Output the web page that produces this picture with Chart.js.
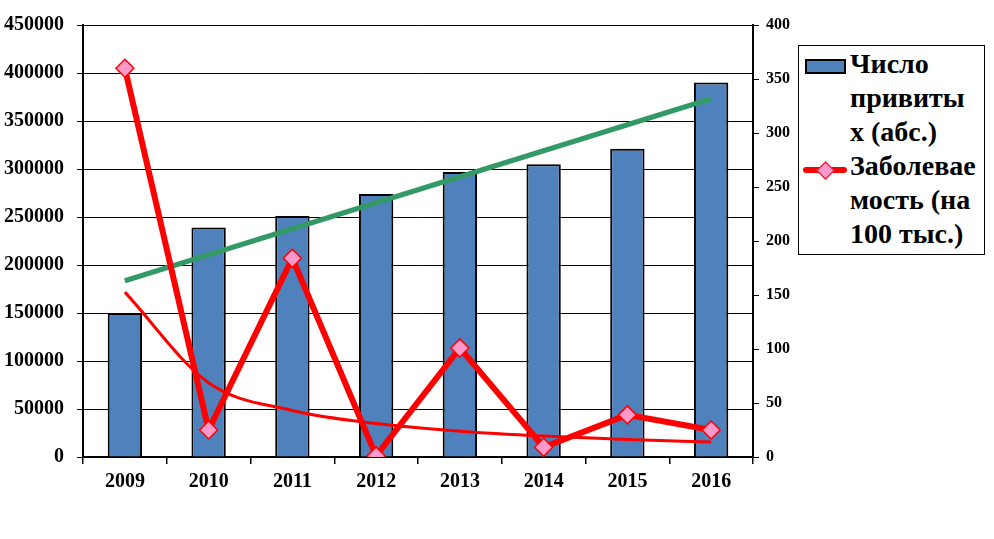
<!DOCTYPE html>
<html>
<head>
<meta charset="utf-8">
<script src="https://cdn.jsdelivr.net/npm/chart.js@4.4.0/dist/chart.umd.min.js"></script>
<style>
    body { margin: 0; background: #fff; }
    #wrap { position: relative; width: 994px; height: 539px; }
    #legend {
        position: absolute; left: 798px; top: 45px; width: 187px; height: 210px;
        border: 1px solid #000; background: #fff; box-sizing: border-box;
        font-family: "Liberation Serif", "Times New Roman", serif;
        font-weight: bold; font-size: 28px; line-height: 34px; color: #000;
    }
    .lg-text { position: absolute; left: 51px; white-space: nowrap; }
    .swatch { position: absolute; left: 6px; top: 13px; width: 41px; height: 15px;
        background: #4F81BD; border: 2px solid #000; box-sizing: border-box; }
    .lineMark { position: absolute; left: 4px; top: 121px; width: 44px; height: 6px; background: #ff0000; border-radius: 3px; }
    .diamond { position: absolute; left: 20px; top: 118px; width: 11px; height: 11px;
        background: #FF99CC; border: 1.5px solid #ff0000; transform: rotate(45deg); }
</style>
</head>
<body>
<div id="wrap">
    <canvas id="myChart" width="994" height="539"></canvas>
    <div id="legend"></div>
</div>
<script>
// data
const years = ['2009', '2010', '2011', '2012', '2013', '2014', '2015', '2016'];
const vaccinated = [150000, 239000, 251000, 274000, 297000, 305000, 321000, 390000];
const incidence = [360, 25, 184, 1, 101, 9, 39, 25];
const vaccinatedLabel = ['Число', 'привиты', 'х (абс.)'];
const incidenceLabel = ['Заболевае', 'мость (на', '100 тыс.)'];

// trendlines, least squares on the data (linear for bars, power for incidence)
const xs = years.map((y, i) => i + 1);
function linFit(x, y) {
    const n = x.length;
    const mx = x.reduce((a, b) => a + b, 0) / n;
    const my = y.reduce((a, b) => a + b, 0) / n;
    let sxy = 0, sxx = 0;
    for (let i = 0; i < n; i++) {
        sxy += (x[i] - mx) * (y[i] - my);
        sxx += (x[i] - mx) * (x[i] - mx);
    }
    const b = sxy / sxx;
    return { a: my - b * mx, b: b };
}
const lin = linFit(xs, vaccinated);
const vaccTrend = xs.map(x => lin.a + lin.b * x);
const pw = linFit(xs.map(Math.log), incidence.map(Math.log));
const incTrend = xs.map(x => Math.exp(pw.a) * Math.pow(x, pw.b));

const tickFont = { family: 'Liberation Serif', weight: 'bold', size: 20 };

const ctx = document.getElementById('myChart').getContext('2d');
const myChart = new Chart(ctx, {
    type: 'bar',
    data: {
        labels: years,
        datasets: [{
            type: 'line',
            label: incidenceLabel.join(' '),
            data: incidence,
            yAxisID: 'y1',
            borderColor: '#ff0000',
            borderWidth: 6,
            pointStyle: 'rectRot',
            pointRadius: 9,
            pointBackgroundColor: '#FF99CC',
            pointBorderColor: '#ff0000',
            pointBorderWidth: 1.5,
            order: 0
        }, {
            type: 'line',
            label: 'trend1',
            data: vaccTrend,
            yAxisID: 'y',
            borderColor: '#339966',
            borderWidth: 5,
            pointRadius: 0,
            order: 1
        }, {
            type: 'line',
            label: 'trend2',
            data: incTrend,
            yAxisID: 'y1',
            borderColor: '#ff0000',
            borderWidth: 3,
            pointRadius: 0,
            cubicInterpolationMode: 'monotone',
            order: 2
        }, {
            label: vaccinatedLabel.join(' '),
            data: vaccinated,
            yAxisID: 'y',
            backgroundColor: '#4F81BD',
            borderColor: '#000',
            borderWidth: 2,
            barPercentage: 0.41,
            categoryPercentage: 1,
            order: 3
        }]
    },
    options: {
        responsive: false,
        animation: false,
        layout: { padding: { top: 25, right: 0, bottom: 0, left: 0 } },
        plugins: { legend: { display: false }, tooltip: { enabled: false } },
        scales: {
            x: {
                offset: true,
                grid: { offset: true, drawOnChartArea: false, color: '#000', lineWidth: 1.5, tickLength: 7 },
                border: { color: '#000', width: 2 },
                ticks: { font: tickFont, color: '#000', padding: 6, maxRotation: 0 },
                afterFit: s => { s.height = 82; }
            },
            y: {
                position: 'left',
                min: 0, max: 450000,
                grid: { color: '#000', lineWidth: 1, tickLength: 6 },
                border: { color: '#000', width: 2 },
                ticks: { stepSize: 50000, font: tickFont, color: '#000', padding: 13, callback: v => v },
                afterFit: s => { s.width = 83; }
            },
            y1: {
                position: 'right',
                min: 0, max: 400,
                grid: { drawOnChartArea: false, color: '#000', lineWidth: 1, tickLength: 6 },
                border: { color: '#000', width: 2 },
                ticks: { stepSize: 50, font: { family: 'Liberation Serif', weight: 'bold', size: 16 }, color: '#000', padding: 7 },
                afterFit: s => { s.width = 241; }
            }
        }
    }
});

// legend as html
const legend = document.getElementById('legend');
let html = '<div class="swatch"></div><div class="lineMark"></div><div class="diamond"></div>';
vaccinatedLabel.concat(incidenceLabel).forEach((t, i) => {
    html += `<div class="lg-text" style="top:${i * 34 + 1}px">${t}</div>`;
});
legend.innerHTML = html;
</script>
</body>
</html>
